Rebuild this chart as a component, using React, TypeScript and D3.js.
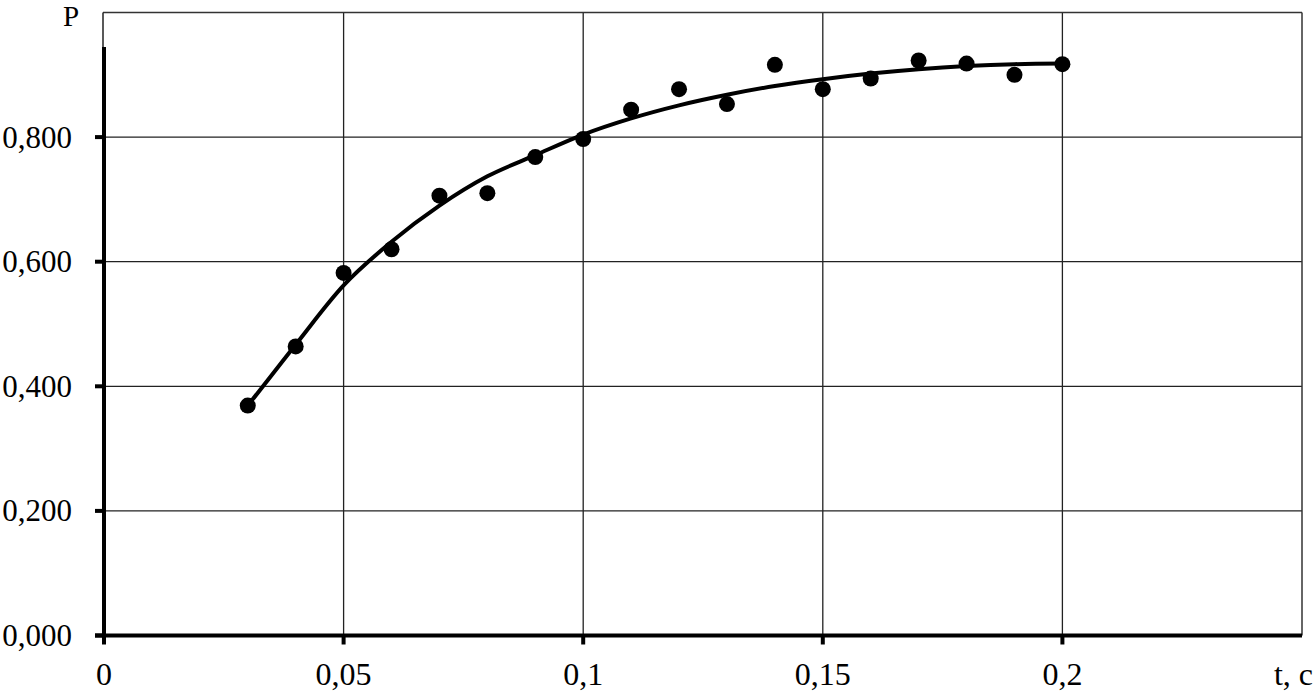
import React from "react";
import * as d3 from "d3";

const tValues = [0.03, 0.04, 0.05, 0.06, 0.07, 0.08, 0.09, 0.1, 0.11, 0.12, 0.13, 0.14, 0.15, 0.16, 0.17, 0.18, 0.19, 0.2];
const pObserved = [0.369, 0.464, 0.582, 0.62, 0.706, 0.71, 0.768, 0.797, 0.844, 0.877, 0.853, 0.916, 0.877, 0.894, 0.923, 0.918, 0.9, 0.917];
const pFitted = [0.369, 0.467, 0.562, 0.632, 0.69, 0.737, 0.771, 0.804, 0.83, 0.851, 0.868, 0.882, 0.893, 0.902, 0.909, 0.914, 0.917, 0.918];
const xTicks = [0, 0.05, 0.1, 0.15, 0.2];
const xTickLabels = ["0", "0,05", "0,1", "0,15", "0,2"];
const yTicks = [0, 0.2, 0.4, 0.6, 0.8];
const yTickLabels = ["0,000", "0,200", "0,400", "0,600", "0,800"];

const W = 1314;
const H = 691;
const left = 104;
const right = 1302;
const top = 12.5;
const bottom = 635.5;
const font = "'Liberation Serif', 'Times New Roman', serif";

export default function App() {
  const x = d3.scaleLinear().domain([0, 0.25]).range([left, right]);
  const y = d3.scaleLinear().domain([0, 1]).range([bottom, top]);
  const line = d3
    .line<number>()
    .x((_, i) => x(tValues[i]))
    .y((d) => y(d))
    .curve(d3.curveMonotoneX);

  return (
    <svg
      width={W}
      height={H}
      style={{ position: "absolute", left: 0, top: 0, background: "#fff" }}
      fontFamily={font}
    >
      <rect x={0} y={0} width={W} height={H} fill="#fff" />
      {/* grid */}
      {xTicks.slice(1).map((t) => (
        <line key={"gx" + t} x1={x(t)} x2={x(t)} y1={top} y2={bottom} stroke="#222" strokeWidth={1.3} />
      ))}
      {yTicks.slice(1).map((t) => (
        <line key={"gy" + t} x1={left} x2={right} y1={y(t)} y2={y(t)} stroke="#222" strokeWidth={1.3} />
      ))}
      {/* border */}
      <line x1={left - 1} x2={right} y1={top} y2={top} stroke="#333" strokeWidth={1.5} />
      <line x1={right} x2={right} y1={top} y2={bottom} stroke="#333" strokeWidth={1.5} />
      <line x1={left - 1} x2={left - 1} y1={top} y2={47} stroke="#222" strokeWidth={1.5} />
      {/* axes */}
      <line x1={left} x2={left} y1={47} y2={bottom + 2} stroke="#000" strokeWidth={4} />
      <line x1={95} x2={right} y1={bottom} y2={bottom} stroke="#000" strokeWidth={4} />
      {yTicks.map((t) => (
        <line key={"ty" + t} x1={95} x2={left} y1={y(t)} y2={y(t)} stroke="#000" strokeWidth={4} />
      ))}
      {xTicks.map((t) => (
        <line key={"tx" + t} x1={x(t)} x2={x(t)} y1={bottom} y2={bottom + 9} stroke="#000" strokeWidth={4} />
      ))}
      {/* labels */}
      {yTicks.map((t, i) => (
        <text key={"ly" + t} x={72} y={y(t) + 10.5} textAnchor="end" fontSize={31} fill="#000">
          {yTickLabels[i]}
        </text>
      ))}
      {xTicks.map((t, i) => (
        <text key={"lx" + t} x={x(t)} y={685} textAnchor="middle" fontSize={32} fill="#000">
          {xTickLabels[i]}
        </text>
      ))}
      <text x={1313} y={685} textAnchor="end" fontSize={32} fill="#000">t, c</text>
      <text x={71} y={26} textAnchor="middle" fontSize={29} fill="#000">P</text>
      {/* fitted curve */}
      <path d={line(pFitted) || ""} fill="none" stroke="#000" strokeWidth={4} strokeLinejoin="round" strokeLinecap="round" />
      {/* observed points */}
      {pObserved.map((p, i) => (
        <circle key={"pt" + i} cx={x(tValues[i])} cy={y(p)} r={8} fill="#000" />
      ))}
    </svg>
  );
}
